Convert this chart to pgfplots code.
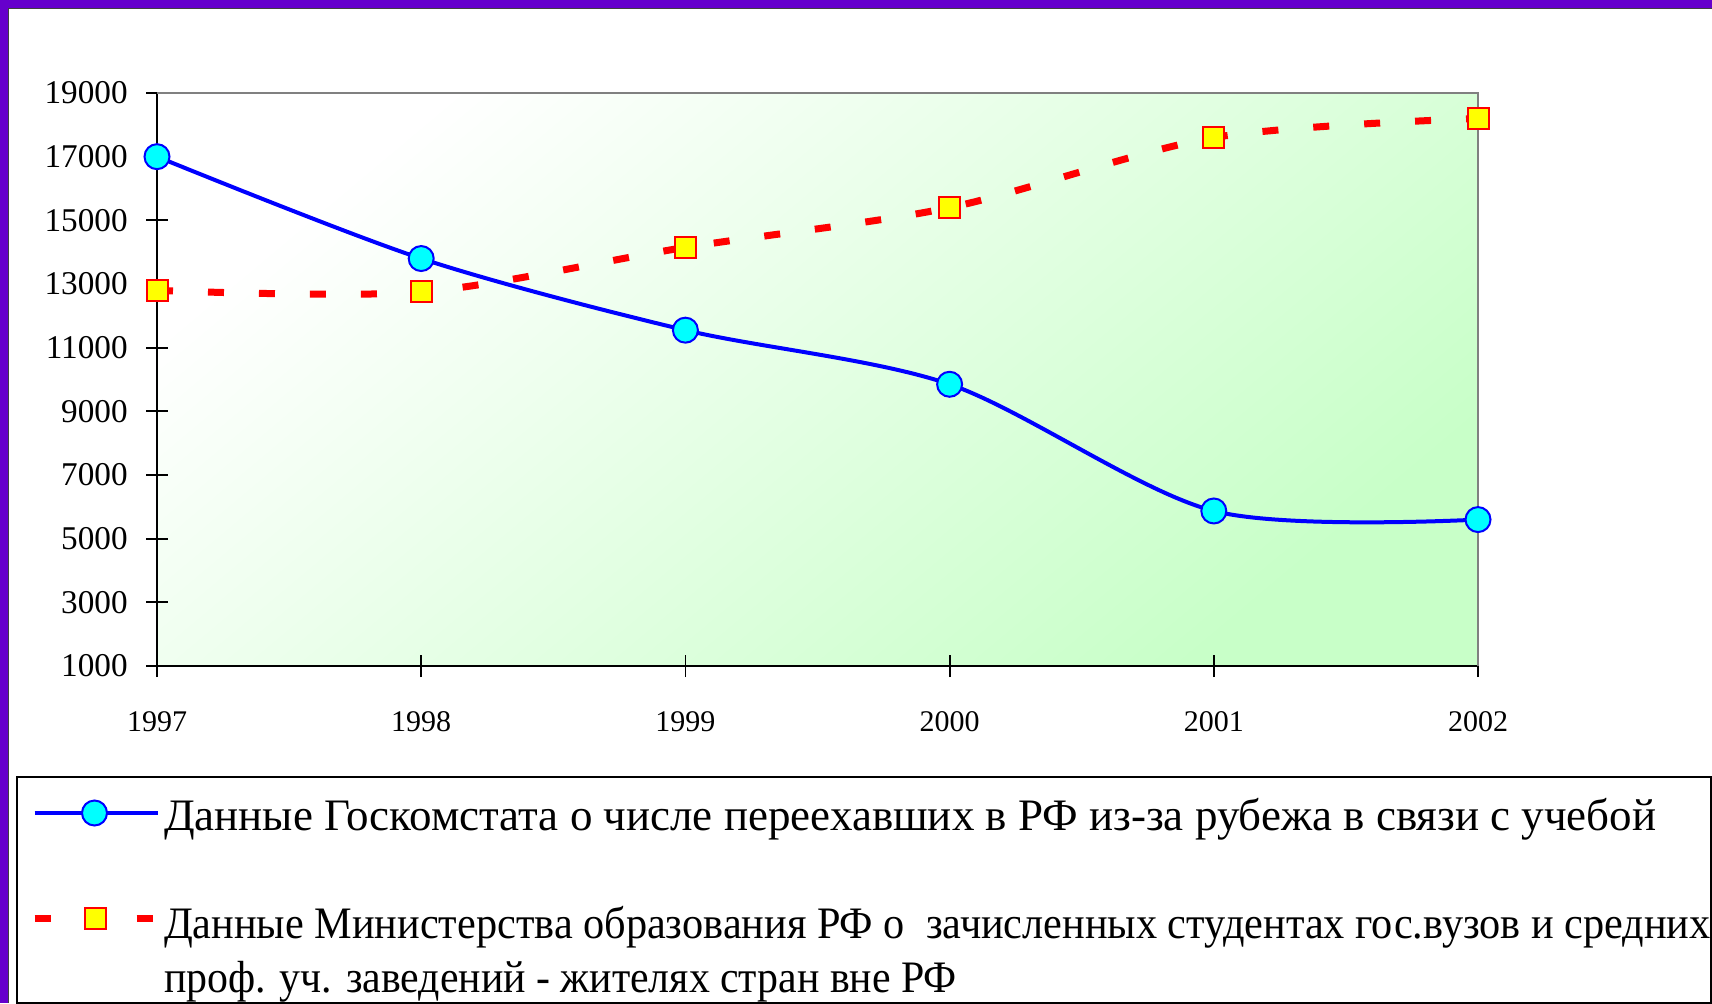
\documentclass[border=0pt]{standalone}
\usepackage{graphicx}
\usepackage{pgfplots}
\pgfplotsset{compat=1.18}
\usepackage{fontspec}
\setmainfont{Liberation Serif}
\definecolor{framepurple}{RGB}{102,0,204}
\definecolor{lgreen}{RGB}{200,255,200}
\definecolor{mcyan}{RGB}{0,255,255}
\definecolor{myellow}{RGB}{255,255,0}
\definecolor{mblue}{RGB}{0,0,255}
\definecolor{mred}{RGB}{255,0,0}
\pgfplotsset{
  bluelegend/.style={legend image code/.code={
    \path (-7pt,0) (63pt,0);
    \draw[mark repeat=2, mark phase=2, ##1] plot coordinates {(0pt,8.5pt) (30pt,8.5pt) (61.5pt,8.5pt)};
  }},
  redlegend/.style={legend image code/.code={
    \path (-7pt,0) (63pt,0);
    \draw[mark repeat=2, mark phase=2, ##1] plot coordinates {(0pt,10pt) (30.5pt,10pt) (61.5pt,10pt)};
  }},
}
\begin{document}
\begin{tikzpicture}
\useasboundingbox (0,0) rectangle (856pt,501.5pt);
\clip (0,0) rectangle (856pt,501.5pt);
\fill[framepurple] (0,0) rectangle (856pt,501.5pt);
\fill[white] (4pt,0) rectangle (856pt,497.5pt);
\draw[line width=0.6pt, black!75] (4.3pt,0) -- (4.3pt,497.2pt) -- (856pt,497.2pt);
\begin{axis}[
  at={(78.5pt,168.5pt)}, anchor=south west,
  scale only axis, width=660.5pt, height=286.5pt,
  xmin=1997, xmax=2002, ymin=1000, ymax=19000,
  xtick={1997,1998,1999,2000,2001,2002},
  ytick={1000,3000,5000,7000,9000,11000,13000,15000,17000,19000},
  scaled y ticks=false, scaled x ticks=false,
  /pgf/number format/.cd, 1000 sep={}, assume math mode=true, /pgfplots/.cd,
  axis x line*=bottom, axis y line*=left,
  x axis line style={-, black, line width=1pt},
  y axis line style={-, black, line width=1pt},
  tick align=center, major tick length=11pt,
  tick style={black, line width=0.9pt},
  yticklabel style={inner sep=0pt, xshift=-9pt, font=\fontsize{16.6}{18}\selectfont},
  xticklabel style={inner sep=0pt, yshift=-17pt, font=\fontsize{15}{17}\selectfont},
  axis background/.style={shade, top color=white, bottom color=lgreen, shading angle=40},
  clip=false,
  legend style={at={(-0.10674,-0.19197)}, anchor=north west,
    draw=black, line width=1pt, fill=white, inner xsep=0pt, inner ysep=4pt,
    row sep=4pt, column sep=0pt,
    nodes={inner sep=0pt, text height=22.5pt, text depth=0pt},
    cells={anchor=base west},
    font=\fontsize{22.5}{25}\selectfont},
]
\draw[gray, line width=1.3pt] (rel axis cs:0,1) -- (rel axis cs:1,1) -- (rel axis cs:1,0);
\addplot[smooth, mblue, line width=2pt, mark=*, mark size=6.25pt,
  mark options={fill=mcyan, draw=mblue, line width=1pt, solid}, bluelegend]
  coordinates {(1997,17000) (1998,13800) (1999,11550) (2000,9850) (2001,5870) (2002,5600)};
\addlegendentry{Данные Госкомстата о числе переехавших в РФ из-за рубежа в связи с учебой\hspace{150pt}}
\addlegendimage{empty legend}
\addlegendentry{~}
\addplot[smooth, mred, line width=3.5pt, dash pattern=on 8pt off 17.5pt, line cap=butt,
  mark=square*, mark size=5.25pt,
  mark options={fill=myellow, draw=mred, line width=1pt, solid}, redlegend]
  coordinates {(1997,12800) (1998,12750) (1999,14150) (2000,15400) (2001,17600) (2002,18200)};
\addlegendentry{\scalebox{0.94}[1]{Данные Министерства образования РФ о\ \ зачисленных студентах гос.вузов и средних}}
\addlegendimage{empty legend}
\addlegendentry{\raisebox{1pt}{\scalebox{0.93}[1]{проф. уч. заведений - жителях стран вне РФ}}}
\end{axis}
\end{tikzpicture}
\end{document}
